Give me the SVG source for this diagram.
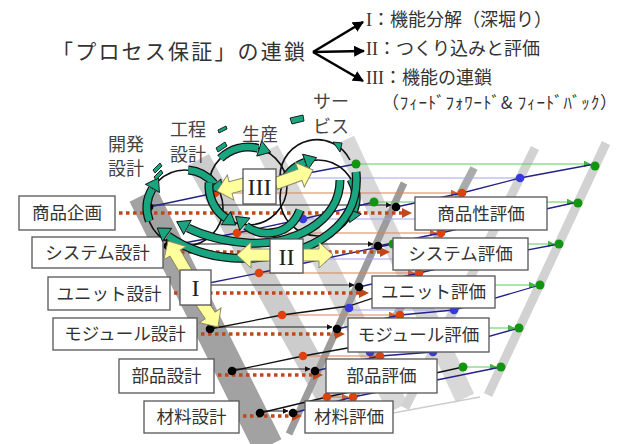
<svg xmlns="http://www.w3.org/2000/svg" width="628" height="444" viewBox="0 0 628 444">
<style>
.jp{font-family:"Noto Sans CJK JP","Liberation Sans",sans-serif;fill:#333}
.bx{fill:#fff;stroke:#555;stroke-width:1.3}
.bt{font-size:17.5px;text-anchor:middle}
.rn{font-family:"Liberation Serif",serif;font-size:24px;text-anchor:middle;fill:#222}
.nv{fill:none;stroke:#22228a;stroke-width:1.3}
.bk{fill:none;stroke:#111;stroke-width:1.3}
.hk{stroke:#222;stroke-width:1}
.ho{stroke:#d8845a;stroke-width:1.2}
.hb{stroke:#a4a4f2;stroke-width:1.2}
.hg{stroke:#5ccc5c;stroke-width:1.2}
.dt{stroke:#c04818;stroke-width:3.5;stroke-dasharray:3.5 3.5}
.db{fill:#000}.dr{fill:#e0400a}.du{fill:#3838e0}.dg{fill:#129612}
.yw{fill:#ffff9c;stroke:#8a8a6a;stroke-width:1}
.go{fill:none;stroke:#111;stroke-width:9}
.gi{fill:none;stroke:#19a57f;stroke-width:6.5}
.gh{fill:#19a57f;stroke:#111;stroke-width:0.9}
.cir{fill:none;stroke:#111;stroke-width:1.6}
.lb{font-size:18px;fill:#444}
</style>
<defs>
<marker id="mk" viewBox="0 0 10 10" refX="9" refY="5" markerWidth="6" markerHeight="6" orient="auto" markerUnits="userSpaceOnUse"><path d="M0,0L10,5L0,10z" fill="#111"/></marker>
<marker id="mo" viewBox="0 0 10 10" refX="9" refY="5" markerWidth="7" markerHeight="7" orient="auto" markerUnits="userSpaceOnUse"><path d="M0,0L10,5L0,10z" fill="#d0602a"/></marker>
<marker id="mg" viewBox="0 0 10 10" refX="9" refY="5" markerWidth="7" markerHeight="7" orient="auto" markerUnits="userSpaceOnUse"><path d="M0,0L10,5L0,10z" fill="#3cb83c"/></marker>
<marker id="mt" viewBox="0 0 10 10" refX="9" refY="5" markerWidth="11" markerHeight="11" orient="auto" markerUnits="userSpaceOnUse"><path d="M0,0L10,5L0,10z" fill="#000"/></marker>
<polygon id="ya" points="0,0 -14,-13 -14,-6 -40,-6 -40,6 -14,6 -14,13"/>
<polygon id="yb" points="0,0 -14,-13 -14,-6 -30,-6 -30,6 -14,6 -14,13"/>
<polygon id="gah" points="7,0 -5,-8 -5,8"/>
<polygon id="dth" points="0,0 -10,-5 -10,5"/>
</defs>

<!-- background bands -->
<g id="bands" stroke-linecap="butt">
<line x1="198" y1="160" x2="336" y2="410" stroke="#cccccc" stroke-width="25"/>
<line x1="268" y1="150" x2="398" y2="408" stroke="#d8d8d8" stroke-width="22"/>
<line x1="345" y1="140" x2="465" y2="398" stroke="#d8d8d8" stroke-width="20"/>
<line x1="606" y1="143" x2="488" y2="395" stroke="#d2d2d2" stroke-width="9"/>
<line x1="535" y1="148" x2="405" y2="408" stroke="#d2d2d2" stroke-width="9"/>
<line x1="474" y1="168" x2="348" y2="408" stroke="#ababab" stroke-width="8"/>
<line x1="143" y1="195" x2="268" y2="446" stroke="#a2a2a2" stroke-width="30"/>
<line x1="404" y1="183" x2="289" y2="434" stroke="#9c9c9c" stroke-width="7"/>
<line x1="393" y1="413" x2="480" y2="397" stroke="#cccccc" stroke-width="1.5"/>
</g>

<!-- connectors -->
<g id="connectors">
<line class="hb" x1="282" y1="178" x2="520" y2="178"/>
<line class="hb" x1="303" y1="219" x2="500" y2="219"/>
<line class="hb" x1="323" y1="259" x2="480" y2="259"/>
<line class="hb" x1="349" y1="310" x2="454" y2="310"/>
<line class="hb" x1="370" y1="352" x2="433" y2="352"/>
<line class="ho" x1="215" y1="193" x2="457" y2="193" marker-end="url(#mo)"/>
<line class="ho" x1="237" y1="233" x2="436" y2="233" marker-end="url(#mo)"/>
<line class="ho" x1="259" y1="273" x2="414" y2="273" marker-end="url(#mo)"/>
<line class="ho" x1="282" y1="315" x2="395" y2="315" marker-end="url(#mo)"/>
<line class="ho" x1="303" y1="356" x2="375" y2="356" marker-end="url(#mo)"/>
<line class="ho" x1="327" y1="397" x2="348" y2="397" marker-end="url(#mo)"/>
<line class="hg" x1="356" y1="164" x2="590" y2="164" marker-end="url(#mg)"/>
<line class="hg" x1="374" y1="202" x2="573" y2="202" marker-end="url(#mg)"/>
<line class="hg" x1="393" y1="244" x2="554" y2="244" marker-end="url(#mg)"/>
<line class="hg" x1="412" y1="285" x2="535" y2="285" marker-end="url(#mg)"/>
<line class="hg" x1="431" y1="328" x2="514" y2="328" marker-end="url(#mg)"/>
<line class="hg" x1="463" y1="367" x2="496" y2="367" marker-end="url(#mg)"/>
<line class="hk" x1="149" y1="205" x2="391" y2="205" marker-end="url(#mk)"/>
<line class="hk" x1="168" y1="244" x2="373" y2="244" marker-end="url(#mk)"/>
<line class="hk" x1="189" y1="285" x2="354" y2="285" marker-end="url(#mk)"/>
<line class="hk" x1="210" y1="327" x2="332" y2="327" marker-end="url(#mk)"/>
<line class="hk" x1="232" y1="369" x2="310" y2="369" marker-end="url(#mk)"/>
<line class="hk" x1="260" y1="411" x2="288" y2="411" marker-end="url(#mk)"/>
<polyline class="nv" points="149,207 215,193 282,178 356,164"/>
<polyline class="nv" points="168,246 237,233 303,219 374,202"/>
<polyline class="nv" points="189,287 259,273 323,259 393,244"/>
<polyline class="bk" points="210,329 282,315 349,306 412,285"/>
<polyline class="bk" points="232,371 303,356 370,344 431,328"/>
<polyline class="bk" points="260,413 327,397 463,367"/>
<polyline class="nv" points="396,207 462,193 520,178 595,164"/>
<polyline class="nv" points="378,246 441,233 500,219 578,202"/>
<polyline class="nv" points="359,287 419,273 480,259 559,244"/>
<polyline class="nv" points="337,329 400,315 454,310 540,285"/>
<polyline class="nv" points="315,371 380,356 433,352 519,328"/>
<polyline class="nv" points="293,413 353,397 501,367"/>
<line class="dt" x1="119" y1="213" x2="402" y2="213"/><use href="#dth" x="412" y="213" fill="#c04818"/>
<line class="dt" x1="167" y1="252" x2="380" y2="252"/><use href="#dth" x="390" y="252" fill="#c04818"/>
<line class="dt" x1="174" y1="293" x2="359" y2="293"/><use href="#dth" x="369" y="293" fill="#c04818"/>
<line class="dt" x1="201" y1="334" x2="335" y2="334"/><use href="#dth" x="345" y="334" fill="#c04818"/>
<line class="dt" x1="218" y1="375" x2="313" y2="375"/><use href="#dth" x="323" y="375" fill="#c04818"/>
<line class="dt" x1="243" y1="416" x2="292" y2="416"/><use href="#dth" x="302" y="416" fill="#c04818"/>
<line x1="313" y1="52" x2="363" y2="22" stroke="#000" stroke-width="2.6" marker-end="url(#mt)"/>
<line x1="313" y1="52" x2="364" y2="51" stroke="#000" stroke-width="2.6" marker-end="url(#mt)"/>
<line x1="313" y1="52" x2="363" y2="81" stroke="#000" stroke-width="2.6" marker-end="url(#mt)"/>
</g>

<!-- dots -->
<g id="dots">
<circle class="db" cx="149" cy="207" r="4.3"/><circle class="db" cx="396" cy="207" r="4.3"/>
<circle class="db" cx="168" cy="246" r="4.3"/><circle class="db" cx="378" cy="246" r="4.3"/>
<circle class="db" cx="189" cy="287" r="4.3"/><circle class="db" cx="359" cy="287" r="4.3"/>
<circle class="db" cx="210" cy="329" r="4.3"/><circle class="db" cx="337" cy="329" r="4.3"/>
<circle class="db" cx="232" cy="371" r="4.3"/><circle class="db" cx="315" cy="371" r="4.3"/>
<circle class="db" cx="260" cy="413" r="4.3"/><circle class="db" cx="293" cy="413" r="4.3"/>
<circle class="dr" cx="215" cy="193" r="4.3"/><circle class="dr" cx="462" cy="193" r="4.3"/>
<circle class="dr" cx="237" cy="233" r="4.3"/><circle class="dr" cx="441" cy="233" r="4.3"/>
<circle class="dr" cx="259" cy="273" r="4.3"/><circle class="dr" cx="419" cy="273" r="4.3"/>
<circle class="dr" cx="282" cy="315" r="4.3"/><circle class="dr" cx="400" cy="315" r="4.3"/>
<circle class="dr" cx="303" cy="356" r="4.3"/><circle class="dr" cx="380" cy="356" r="4.3"/>
<circle class="dr" cx="327" cy="397" r="4.3"/><circle class="dr" cx="353" cy="397" r="4.3"/>
<circle class="du" cx="282" cy="178" r="4.3"/><circle class="du" cx="520" cy="178" r="4.3"/>
<circle class="du" cx="303" cy="219" r="4.3"/><circle class="du" cx="500" cy="219" r="4.3"/>
<circle class="du" cx="323" cy="259" r="4.3"/><circle class="du" cx="480" cy="259" r="4.3"/>
<circle class="du" cx="349" cy="308" r="4.3"/><circle class="du" cx="454" cy="310" r="4.3"/>
<circle class="du" cx="370" cy="352" r="4.3"/><circle class="du" cx="433" cy="352" r="4.3"/>
<circle class="dg" cx="356" cy="164" r="4.5"/><circle class="dg" cx="595" cy="166" r="4.5"/>
<circle class="dg" cx="374" cy="202" r="4.5"/><circle class="dg" cx="578" cy="203" r="4.5"/>
<circle class="dg" cx="393" cy="244" r="4.5"/><circle class="dg" cx="559" cy="244" r="4.5"/>
<circle class="dg" cx="412" cy="285" r="4.5"/><circle class="dg" cx="540" cy="285" r="4.5"/>
<circle class="dg" cx="431" cy="328" r="4.5"/><circle class="dg" cx="519" cy="328" r="4.5"/>
<circle class="dg" cx="463" cy="367" r="4.5"/><circle class="dg" cx="501" cy="367" r="4.5"/>
</g>

<!-- design nodes -->
<g id="n-shohin-kikaku"><rect class="bx" x="19" y="196" width="96" height="34"/><text class="jp bt" x="67" y="219">商品企画</text></g>
<g id="n-system-sekkei"><rect class="bx" x="32" y="237" width="131" height="31"/><text class="jp bt" x="97.5" y="259">システム設計</text></g>
<g id="n-unit-sekkei"><rect class="bx" x="48" y="277" width="122" height="33"/><text class="jp bt" x="109" y="300">ユニット設計</text></g>
<g id="n-module-sekkei"><rect class="bx" x="53" y="318" width="144" height="32"/><text class="jp bt" x="125" y="340">モジュール設計</text></g>
<g id="n-buhin-sekkei"><rect class="bx" x="119" y="359" width="95" height="34"/><text class="jp bt" x="166.5" y="382">部品設計</text></g>
<g id="n-zairyo-sekkei"><rect class="bx" x="144" y="401" width="95" height="32"/><text class="jp bt" x="191.5" y="423">材料設計</text></g>
<!-- evaluation nodes -->
<g id="n-shohinsei-hyoka"><rect class="bx" x="415" y="197" width="132" height="33"/><text class="jp bt" x="481" y="220">商品性評価</text></g>
<g id="n-system-hyoka"><rect class="bx" x="393" y="238" width="135" height="32"/><text class="jp bt" x="460.5" y="260">システム評価</text></g>
<g id="n-unit-hyoka"><rect class="bx" x="372" y="276" width="123" height="32"/><text class="jp bt" x="433.5" y="298">ユニット評価</text></g>
<g id="n-module-hyoka"><rect class="bx" x="348" y="318" width="141" height="34"/><text class="jp bt" x="418.5" y="341">モジュール評価</text></g>
<g id="n-buhin-hyoka"><rect class="bx" x="326" y="359" width="111" height="34"/><text class="jp bt" x="381.5" y="382">部品評価</text></g>
<g id="n-zairyo-hyoka"><rect class="bx" x="305" y="401" width="88" height="32"/><text class="jp bt" x="349" y="423">材料評価</text></g>

<!-- cycles -->
<g id="cycles">
<circle class="cir" cx="185" cy="208" r="38"/>
<circle class="cir" cx="248" cy="186" r="39"/>
<circle class="cir" cx="318" cy="198" r="38"/>
<path class="cir" d="M280,176 A37,37 0 0,1 350,160"/>
<path class="go" d="M149.3,221 A38,38 0 0,1 152.1,189"/><path class="gi" d="M149.3,221 A38,38 0 0,1 152.1,189"/><use class="gh" href="#gah" transform="translate(155,184) rotate(-60)"/>
<path class="go" d="M188.3,170 A38,38 0 0,1 214,183.6"/><path class="gi" d="M188.3,170 A38,38 0 0,1 214,183.6"/><use class="gh" href="#gah" transform="translate(218,188) rotate(50)"/>
<path class="go" d="M220.4,158.4 A39,39 0 0,1 258.1,148.3"/><path class="gi" d="M220.4,158.4 A39,39 0 0,1 258.1,148.3"/><use class="gh" href="#gah" transform="translate(264,150) rotate(18)"/>
<path class="go" d="M209.1,182.6 A39,39 0 0,0 225.6,218"/><path class="gi" d="M209.1,182.6 A39,39 0 0,0 225.6,218"/><use class="gh" href="#gah" transform="translate(230,221) rotate(35)"/>
<path class="go" d="M282.3,185 A38,38 0 0,1 305,162.3"/><path class="gi" d="M282.3,185 A38,38 0 0,1 305,162.3"/><use class="gh" href="#gah" transform="translate(310,160) rotate(-20)"/>
<path class="go" d="M350.9,179 A38,38 0 0,1 353.7,211"/><path class="gi" d="M350.9,179 A38,38 0 0,1 353.7,211"/><use class="gh" href="#gah" transform="translate(352,216) rotate(110)"/>
<path class="go" d="M300,210 C290,236 262,238 246,226"/><path class="gi" d="M300,210 C290,236 262,238 246,226"/><use class="gh" href="#gah" transform="translate(241,221) rotate(220)"/>
<path class="go" d="M356,172 C362,232 300,262 232,258 C205,256 185,248 168,236"/><path class="gi" d="M356,172 C362,232 300,262 232,258 C205,256 185,248 168,236"/><use class="gh" href="#gah" transform="translate(163,232) rotate(215)"/>
<path class="go" d="M340,180 C340,222 292,246 248,243 C222,241 204,236 188,228"/><path class="gi" d="M340,180 C340,222 292,246 248,243 C222,241 204,236 188,228"/><use class="gh" href="#gah" transform="translate(183,225) rotate(208)"/>
<polygon class="gh" points="153,170 160,163 162,166 155,173"/>
<polygon class="gh" points="154,177 161,170 163,173 156,180"/>
<polygon class="gh" points="218,130 226,126 227,129 219,133"/>
<polygon class="gh" points="216,148 225,142 227,146 218,152"/>
<polygon class="gh" points="290,118 303,115 304,121 292,124"/>
<polygon class="gh" points="333,142 342,143 340,152"/>
</g>

<!-- yellow arrows and numeral boxes -->
<g id="n-III"><use class="yw" href="#yb" transform="translate(217,191) rotate(165.5)"/><use class="yw" href="#ya" transform="translate(313,170) rotate(-20)"/><rect class="bx" x="243" y="169" width="33" height="35"/><text class="rn" x="259.5" y="195">III</text></g>
<g id="n-II"><use class="yw" href="#ya" transform="translate(237,255) rotate(180)"/><use class="yw" href="#yb" transform="translate(333,255)"/><rect class="bx" x="270" y="239" width="33" height="34"/><text class="rn" x="286.5" y="265">II</text></g>
<g id="n-I"><use class="yw" href="#ya" transform="translate(168,241) rotate(-120.5)"/><use class="yw" href="#yb" transform="translate(218,327) rotate(56)"/><rect class="bx" x="180" y="270" width="31" height="35"/><text class="rn" x="195.5" y="296">I</text></g>

<!-- labels -->
<g id="labels">
<text class="jp lb" x="108" y="151">開発</text><text class="jp lb" x="108" y="175">設計</text>
<text class="jp lb" x="170" y="136">工程</text><text class="jp lb" x="170" y="161">設計</text>
<text class="jp lb" x="242" y="141">生産</text>
<text class="jp lb" x="313" y="108">サー</text><text class="jp lb" x="313" y="133">ビス</text>
</g>

<!-- title -->
<g id="title">
<text class="jp" x="52" y="59" font-size="21" textLength="253">「プロセス保証」の連鎖</text>
<text class="jp" x="366" y="26" font-size="18"><tspan font-family="Liberation Serif">I</tspan>：機能分解（深堀り）</text>
<text class="jp" x="366" y="55" font-size="18"><tspan font-family="Liberation Serif">II</tspan>：つくり込みと評価</text>
<text class="jp" x="366" y="84" font-size="18"><tspan font-family="Liberation Serif">III</tspan>：機能の連鎖</text>
<text class="jp" x="382" y="109" font-size="17" textLength="235">（ﾌｨｰﾄﾞﾌｫﾜｰﾄﾞ&amp; ﾌｨｰﾄﾞﾊﾞｯｸ）</text>
</g>
</svg>
